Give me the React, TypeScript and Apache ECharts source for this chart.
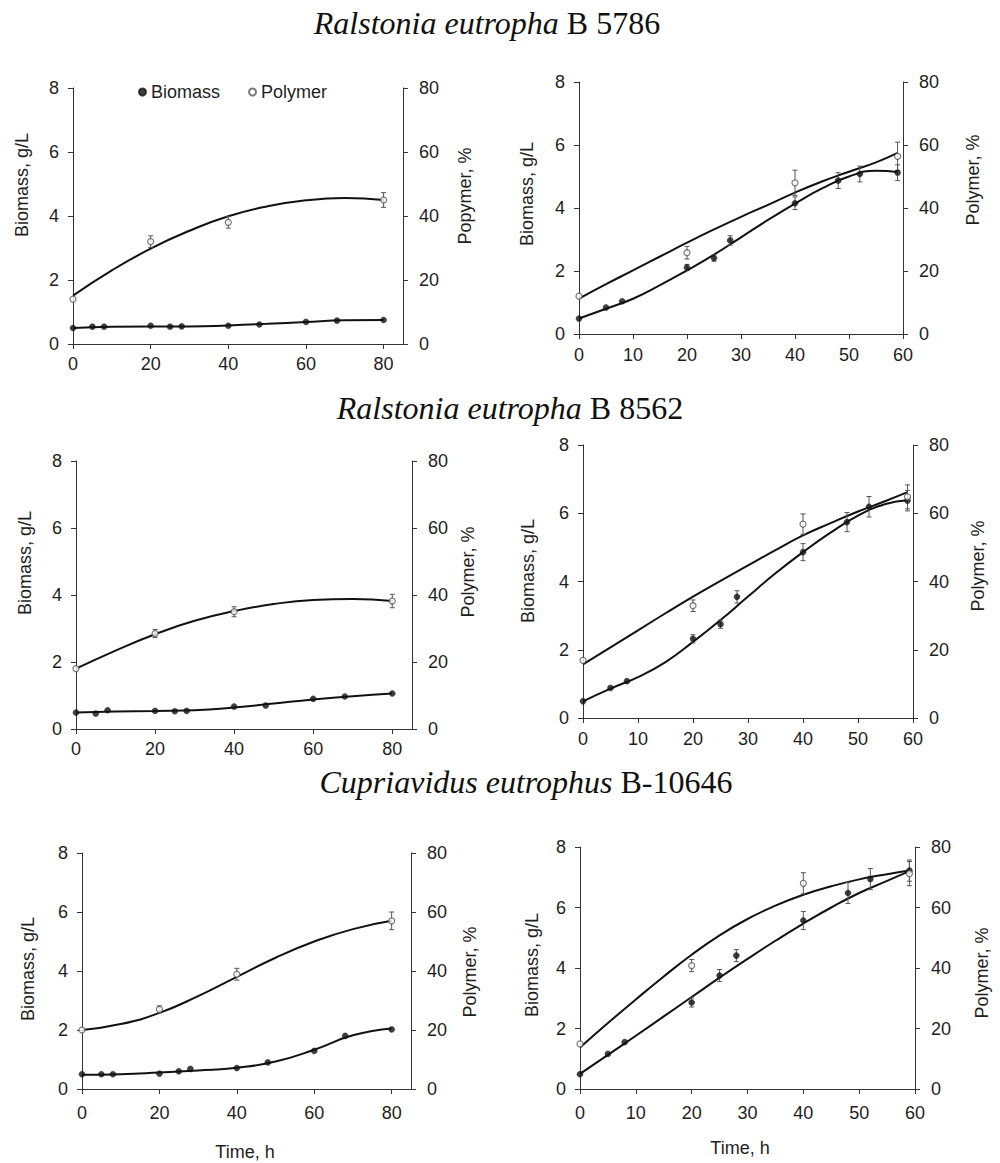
import React, { useEffect, useRef } from 'react';
import * as echarts from 'echarts';

const SANS = '"Liberation Sans", Arial, sans-serif';
const SERIF = '"Liberation Serif", "Times New Roman", serif';

// ---- titles ----
const speciesNames = ['Ralstonia eutropha', 'Ralstonia eutropha', 'Cupriavidus eutrophus'];
const strainNames = ['B 5786', 'B 8562', 'B-10646'];

// ---- axis labels ----
const leftAxisName = 'Biomass, g/L';
const rightAxisNames = ['Popymer, %', 'Polymer, %', 'Polymer, %', 'Polymer, %', 'Polymer, %', 'Polymer, %'];
const timeName = 'Time, h';
const legendNames = ['Biomass', 'Polymer'];

// ---- shared sampling times ----
const tBio80 = [0, 5, 8, 20, 25, 28, 40, 48, 60, 68, 80];
const tBio60 = [0, 5, 8, 20, 25, 28, 40, 48, 52, 59];
const tPoly80 = [0, 20, 40, 80];
const tPoly60 = [0, 20, 40, 59];
const tFit80 = [0, 10, 20, 30, 40, 50, 60, 70, 80];
const tFit60 = [0, 5, 10, 15, 20, 25, 30, 35, 40, 45, 50, 55, 59];

// ---- Panel A: R. eutropha B 5786, left ----
const bioA = [0.5, 0.54, 0.54, 0.57, 0.54, 0.55, 0.57, 0.61, 0.69, 0.73, 0.75];
const polyA = [14, 32, 38, 45];
const polyErrA = [0, 1.8, 1.8, 2.3];
const bioFitA = [0.5, 0.54, 0.55, 0.55, 0.58, 0.63, 0.69, 0.74, 0.75];
const polyFitA = [15.1, 23.0, 29.8, 35.4, 39.9, 43.0, 44.9, 45.6, 45.0];

// ---- Panel B: R. eutropha B 5786, right ----
const bioB = [0.49, 0.84, 1.04, 2.11, 2.41, 2.97, 4.15, 4.87, 5.08, 5.12];
const bioErrB = [0, 0.03, 0.05, 0.1, 0.1, 0.15, 0.2, 0.25, 0.25, 0.25];
const polyB = [12, 25.8, 48, 56.4];
const polyErrB = [0, 2, 4, 4.5];
const bioFitB = [0.49, 0.8, 1.12, 1.55, 2.02, 2.52, 3.07, 3.62, 4.14, 4.62, 5.0, 5.18, 5.14];
const polyFitB = [11.2, 15.8, 20.2, 24.6, 29.0, 33.2, 37.2, 41.0, 44.9, 48.4, 51.5, 54.5, 57.5];

// ---- Panel C: R. eutropha B 8562, left ----
const bioC = [0.49, 0.46, 0.56, 0.54, 0.53, 0.54, 0.67, 0.7, 0.9, 0.97, 1.06];
const polyC = [18, 28.5, 35, 38.2];
const polyErrC = [0, 1.2, 1.5, 2];
const bioFitC = [0.49, 0.52, 0.54, 0.56, 0.64, 0.76, 0.88, 0.98, 1.06];
const polyFitC = [18, 23.4, 28.3, 32.3, 35.2, 37.3, 38.5, 38.8, 38.2];

// ---- Panel D: R. eutropha B 8562, right ----
const bioD = [0.49, 0.88, 1.08, 2.32, 2.75, 3.55, 4.86, 5.74, 6.19, 6.37];
const bioErrD = [0, 0.03, 0.05, 0.12, 0.12, 0.18, 0.25, 0.28, 0.3, 0.3];
const polyD = [16.9, 32.9, 56.8, 64.8];
const polyErrD = [0, 1.7, 3, 3.5];
const bioFitD = [0.49, 0.86, 1.2, 1.64, 2.23, 2.87, 3.56, 4.24, 4.86, 5.43, 5.93, 6.27, 6.38];
const polyFitD = [15.7, 20.7, 25.7, 30.7, 35.6, 40.2, 44.7, 49.2, 53.5, 57.1, 60.5, 63.6, 66.2];

// ---- Panel E: C. eutrophus B-10646, left ----
const bioE = [0.5, 0.5, 0.5, 0.52, 0.6, 0.68, 0.71, 0.9, 1.29, 1.8, 2.02];
const polyE = [20, 27, 38.9, 57];
const polyErrE = [0, 1.2, 2, 3];
const bioFitE = [0.48, 0.5, 0.56, 0.63, 0.72, 0.93, 1.33, 1.82, 2.05];
const polyFitE = [20, 22, 25.8, 31.5, 38, 44.5, 50, 54.2, 57];

// ---- Panel F: C. eutrophus B-10646, right ----
const bioF = [0.49, 1.16, 1.55, 2.86, 3.75, 4.41, 5.57, 6.48, 6.94, 7.22];
const bioErrF = [0, 0.04, 0.06, 0.15, 0.2, 0.2, 0.3, 0.35, 0.35, 0.35];
const polyF = [14.9, 40.8, 68, 71.2];
const polyErrF = [0, 2, 3.5, 4];
const bioFitF = [0.5, 1.13, 1.76, 2.4, 3.04, 3.68, 4.3, 4.9, 5.47, 6.0, 6.48, 6.88, 7.2];
const polyFitF = [13.7, 21.8, 29.6, 37.2, 44.4, 50.8, 56.2, 60.6, 64.2, 67.0, 69.3, 71.0, 72.2];

// ---- axis ranges ----
const xMaxLong = 85;
const xMaxShort = 60;
const bioMax = 8;
const polyMax = 80;

const panels = [
  { tBio: tBio80, bio: bioA, bioErr: null, tPoly: tPoly80, poly: polyA, polyErr: polyErrA, tFit: tFit80, bioFit: bioFitA, polyFit: polyFitA, xMax: xMaxLong, xInt: 20 },
  { tBio: tBio60, bio: bioB, bioErr: bioErrB, tPoly: tPoly60, poly: polyB, polyErr: polyErrB, tFit: tFit60, bioFit: bioFitB, polyFit: polyFitB, xMax: xMaxShort, xInt: 10 },
  { tBio: tBio80, bio: bioC, bioErr: null, tPoly: tPoly80, poly: polyC, polyErr: polyErrC, tFit: tFit80, bioFit: bioFitC, polyFit: polyFitC, xMax: xMaxLong, xInt: 20 },
  { tBio: tBio60, bio: bioD, bioErr: bioErrD, tPoly: tPoly60, poly: polyD, polyErr: polyErrD, tFit: tFit60, bioFit: bioFitD, polyFit: polyFitD, xMax: xMaxShort, xInt: 10 },
  { tBio: tBio80, bio: bioE, bioErr: null, tPoly: tPoly80, poly: polyE, polyErr: polyErrE, tFit: tFit80, bioFit: bioFitE, polyFit: polyFitE, xMax: xMaxLong, xInt: 20 },
  { tBio: tBio60, bio: bioF, bioErr: bioErrF, tPoly: tPoly60, poly: polyF, polyErr: polyErrF, tFit: tFit60, bioFit: bioFitF, polyFit: polyFitF, xMax: xMaxShort, xInt: 10 },
];

// ---- layout (pixels) ----
const gridBoxes = [
  { left: 73, top: 88, width: 330, height: 256, xLabelMargin: 11 },
  { left: 579, top: 82, width: 324, height: 252, xLabelMargin: 12 },
  { left: 76, top: 461, width: 336, height: 268, xLabelMargin: 11 },
  { left: 583, top: 445, width: 330, height: 273, xLabelMargin: 12 },
  { left: 82, top: 853, width: 329, height: 236, xLabelMargin: 15 },
  { left: 580, top: 847, width: 335, height: 242, xLabelMargin: 15 },
];
const leftNamePos = [[22, 185], [527, 194], [25, 563], [528, 571], [28, 969], [532, 965]];
const rightNamePos = [[465, 196], [973, 180], [468, 572], [978, 566], [470, 972], [982, 973]];
const titlePos = [[487, 23], [510, 408], [526, 782]];
const timePos = [[245, 1152], [740, 1148]];

const AXIS_COLOR = '#333';
const TEXT_COLOR = '#1e1e1e';
const TICK_FONT = 18;
const NAME_FONT = 18;
const TITLE_FONT = 32;

function errorSeries(data: number[][], xi: number, yi: number) {
  return {
    type: 'custom',
    xAxisIndex: xi,
    yAxisIndex: yi,
    z: 3,
    silent: true,
    data,
    encode: { x: 0, y: 1 },
    renderItem: (_params: any, api: any) => {
      const x = api.value(0);
      const y = api.value(1);
      const e = api.value(2);
      const p1 = api.coord([x, y + e]);
      const p2 = api.coord([x, y - e]);
      const w = 2.5;
      const style = { stroke: '#555', lineWidth: 1 };
      return {
        type: 'group',
        children: [
          { type: 'line', shape: { x1: p1[0], y1: p1[1], x2: p2[0], y2: p2[1] }, style },
          { type: 'line', shape: { x1: p1[0] - w, y1: p1[1], x2: p1[0] + w, y2: p1[1] }, style },
          { type: 'line', shape: { x1: p2[0] - w, y1: p2[1], x2: p2[0] + w, y2: p2[1] }, style },
        ],
      };
    },
  };
}

function buildOption() {
  const grid: any[] = [];
  const xAxis: any[] = [];
  const yAxis: any[] = [];
  const series: any[] = [];
  const graphic: any[] = [];

  panels.forEach((p, i) => {
    const g = gridBoxes[i];
    grid.push({ left: g.left, top: g.top, width: g.width, height: g.height, containLabel: false });
    xAxis.push({
      type: 'value',
      gridIndex: i,
      min: 0,
      max: p.xMax,
      interval: p.xInt,
      axisLine: { show: true, onZero: false, lineStyle: { color: AXIS_COLOR, width: 1 } },
      axisTick: { show: true, length: 5, lineStyle: { color: AXIS_COLOR } },
      axisLabel: { show: true, showMaxLabel: p.xMax === xMaxShort, margin: g.xLabelMargin, fontSize: TICK_FONT, fontFamily: SANS, color: TEXT_COLOR },
      splitLine: { show: false },
    });
    yAxis.push({
      type: 'value',
      gridIndex: i,
      position: 'left',
      min: 0,
      max: bioMax,
      interval: 2,
      axisLine: { show: true, onZero: false, lineStyle: { color: AXIS_COLOR, width: 1 } },
      axisTick: { show: true, length: 5, lineStyle: { color: AXIS_COLOR } },
      axisLabel: { margin: 14, fontSize: TICK_FONT, fontFamily: SANS, color: TEXT_COLOR },
      splitLine: { show: false },
    });
    yAxis.push({
      type: 'value',
      gridIndex: i,
      position: 'right',
      min: 0,
      max: polyMax,
      interval: 20,
      axisLine: { show: true, onZero: false, lineStyle: { color: AXIS_COLOR, width: 1 } },
      axisTick: { show: true, length: 5, lineStyle: { color: AXIS_COLOR } },
      axisLabel: { margin: 16, fontSize: TICK_FONT, fontFamily: SANS, color: TEXT_COLOR },
      splitLine: { show: false },
    });
    const yl = 2 * i;
    const yr = 2 * i + 1;

    series.push({
      type: 'line', name: 'Biomass fit', xAxisIndex: i, yAxisIndex: yl, smooth: 0.5, showSymbol: false, symbol: 'none', z: 2,
      lineStyle: { color: '#111', width: 2 }, silent: true,
      data: p.tFit.map((t, k) => [t, p.bioFit[k]]),
    });
    series.push({
      type: 'line', name: 'Polymer fit', xAxisIndex: i, yAxisIndex: yr, smooth: 0.5, showSymbol: false, symbol: 'none', z: 2,
      lineStyle: { color: '#111', width: 2 }, silent: true,
      data: p.tFit.map((t, k) => [t, p.polyFit[k]]),
    });
    if (p.bioErr) {
      series.push(errorSeries(p.tBio.map((t, k) => [t, p.bio[k], p.bioErr![k]]).filter((r) => r[2] > 0.06), i, yl));
    }
    series.push(errorSeries(p.tPoly.map((t, k) => [t, p.poly[k], p.polyErr[k]]).filter((r) => r[2] > 0), i, yr));
    series.push({
      type: 'scatter', name: 'Biomass', xAxisIndex: i, yAxisIndex: yl, symbol: 'circle', symbolSize: 6, z: 4,
      itemStyle: { color: '#111', borderColor: '#111', borderWidth: 0.5 },
      data: p.tBio.map((t, k) => [t, p.bio[k]]),
    });
    series.push({
      type: 'scatter', name: 'Polymer', xAxisIndex: i, yAxisIndex: yr, symbol: 'circle', symbolSize: 6, z: 4,
      itemStyle: { color: '#ffffff', borderColor: '#555', borderWidth: 1.2 },
      data: p.tPoly.map((t, k) => [t, p.poly[k]]),
    });

    graphic.push({
      type: 'text', x: leftNamePos[i][0], y: leftNamePos[i][1], rotation: Math.PI / 2,
      style: { text: leftAxisName, fontSize: NAME_FONT, fontFamily: SANS, fill: TEXT_COLOR, align: 'center', verticalAlign: 'middle' },
    });
    graphic.push({
      type: 'text', x: rightNamePos[i][0], y: rightNamePos[i][1], rotation: Math.PI / 2,
      style: { text: rightAxisNames[i], fontSize: NAME_FONT, fontFamily: SANS, fill: TEXT_COLOR, align: 'center', verticalAlign: 'middle' },
    });
  });

  speciesNames.forEach((sp, k) => {
    graphic.push({
      type: 'text', x: titlePos[k][0], y: titlePos[k][1],
      style: {
        text: `{i|${sp}} {r|${strainNames[k]}}`,
        align: 'center', verticalAlign: 'middle',
        fontSize: TITLE_FONT, fontFamily: SERIF, fill: '#111',
        rich: {
          i: { fontStyle: 'italic', fontSize: TITLE_FONT, fontFamily: SERIF, fill: '#111', color: '#111' },
          r: { fontSize: TITLE_FONT, fontFamily: SERIF, fill: '#111', color: '#111' },
        },
      },
    });
  });

  timePos.forEach((pos) => {
    graphic.push({
      type: 'text', x: pos[0], y: pos[1],
      style: { text: timeName, fontSize: NAME_FONT, fontFamily: SANS, fill: TEXT_COLOR, align: 'center', verticalAlign: 'middle' },
    });
  });

  return {
    animation: false,
    backgroundColor: '#ffffff',
    legend: {
      data: legendNames,
      left: 133,
      top: 78,
      itemGap: 28,
      itemWidth: 7,
      itemHeight: 7,
      icon: 'circle',
      selectedMode: false,
      textStyle: { fontSize: 18, fontFamily: SANS, color: TEXT_COLOR },
    },
    grid,
    xAxis,
    yAxis,
    series,
    graphic,
  };
}

export default function App() {
  const ref = useRef<HTMLDivElement>(null);
  useEffect(() => {
    if (!ref.current) return;
    const chart = echarts.init(ref.current, undefined, { renderer: 'svg' });
    chart.setOption(buildOption() as any);
    return () => chart.dispose();
  }, []);
  return (
    <div
      ref={ref}
      style={{ position: 'absolute', left: 0, top: 0, width: 1000, height: 1163, background: '#fff' }}
    />
  );
}
